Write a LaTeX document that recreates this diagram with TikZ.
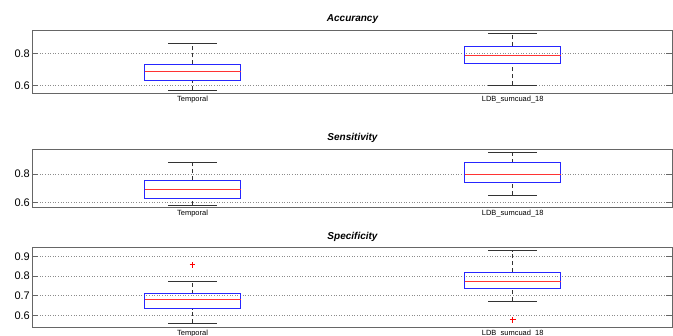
\documentclass[tikz,border=0pt]{standalone}
\usepackage{fontspec}
\setmainfont{Liberation Sans}
\usetikzlibrary{shapes.misc}

\tikzset{
  frame/.style={draw=black!60, line width=0.9pt},
  gridline/.style={draw=black!45, dotted, line width=0.6pt},
  tickmark/.style={draw=black!60, line width=0.9pt},
  ticklabel/.style={anchor=east, inner sep=0pt, font=\fontsize{11}{12}\selectfont},
  grouplabel/.style={anchor=north, inner sep=0pt, font=\fontsize{7.5}{8}\selectfont},
  plottitle/.style={inner sep=0pt, font=\fontsize{10}{11}\selectfont\bfseries\itshape},
  whisker/.style={black!80, line width=0.7pt, dash pattern=on 4pt off 3pt},
  whiskercap/.style={black!80, line width=0.7pt},
  quartbox/.style={draw=blue!85, line width=0.9pt},
  median/.style={red!80, line width=0.9pt},
  outlier/.style={cross out, draw=red, rotate=45, minimum size=3.5pt, inner sep=0pt, line width=0.6pt}
}

% box plot: center, low whisker, q1, median, q3, high whisker
\newcommand{\boxwhisk}[6]{%
  \draw[whisker] (#1,#2) -- (#1,#3) (#1,#5) -- (#1,#6);
  \draw[whiskercap] ({#1-24.5},#2) -- ({#1+24.5},#2) ({#1-24.5},#6) -- ({#1+24.5},#6);
  \draw[quartbox] ({#1-48},#3) rectangle ({#1+48},#5);
  \draw[median] ({#1-48},#4) -- ({#1+48},#4);
}

\begin{document}
\begin{tikzpicture}[x=1pt, y=1pt]
\useasboundingbox (0,0) rectangle (673,-336);

% Accurancy
\node[plottitle] (tacc) at (352.5,-19) {Accurancy};
\begin{scope}[yshift=-182.9pt, yscale=162]
  \foreach \v [count=\i] in {0.6,0.8} {
    \draw[gridline] (32,\v) -- (672,\v);
    \draw[tickmark] (32,\v) -- ++(6,0) (672,\v) -- ++(-6,0);
    \node[ticklabel] (acc-y\i) at (30,\v) {\v};
  }
  \boxwhisk{192.5}{0.573}{0.631}{0.686}{0.732}{0.864}
  \boxwhisk{512.7}{0.604}{0.738}{0.785}{0.843}{0.924}
  \draw[frame] (32,0.555) rectangle (672,0.938);
\end{scope}
\node[grouplabel] (acc-temp) at (192.5,-96) {Temporal};
\node[grouplabel] (acc-ldb) at (512.7,-96) {LDB\_sumcuad\_18};

% Sensitivity
\node[plottitle] (tsens) at (352.5,-137.5) {Sensitivity};
\begin{scope}[yshift=-287.2pt, yscale=141.5]
  \foreach \v [count=\i] in {0.6,0.8} {
    \draw[gridline] (32,\v) -- (672,\v);
    \draw[tickmark] (32,\v) -- ++(6,0) (672,\v) -- ++(-6,0);
    \node[ticklabel] (sens-y\i) at (30,\v) {\v};
  }
  \boxwhisk{192.5}{0.581}{0.628}{0.692}{0.755}{0.882}
  \boxwhisk{512.7}{0.650}{0.743}{0.800}{0.880}{0.953}
  \draw[frame] (32,0.562) rectangle (672,0.970);
\end{scope}
\node[grouplabel] (sens-temp) at (192.5,-210) {Temporal};
\node[grouplabel] (sens-ldb) at (512.7,-210) {LDB\_sumcuad\_18};

% Specificity
\node[plottitle] (tspec) at (352.5,-237) {Specificity};
\begin{scope}[yshift=-433.6pt, yscale=197]
  \foreach \v [count=\i] in {0.6,0.7,0.8,0.9} {
    \draw[gridline] (32,\v) -- (672,\v);
    \draw[tickmark] (32,\v) -- ++(6,0) (672,\v) -- ++(-6,0);
    \node[ticklabel] (spec-y\i) at (30,\v) {\v};
  }
  \boxwhisk{192.5}{0.562}{0.634}{0.681}{0.710}{0.773}
  \boxwhisk{512.7}{0.671}{0.736}{0.770}{0.820}{0.928}
  \node[outlier] (spec-out1) at (192.5,0.857) {};
  \node[outlier] (spec-out2) at (512.7,0.578) {};
  \draw[frame] (32,0.541) rectangle (672,0.946);
\end{scope}
\node[grouplabel] (spec-temp) at (192.5,-329.5) {Temporal};
\node[grouplabel] (spec-ldb) at (512.7,-329.5) {LDB\_sumcuad\_18};
\end{tikzpicture}
\end{document}
